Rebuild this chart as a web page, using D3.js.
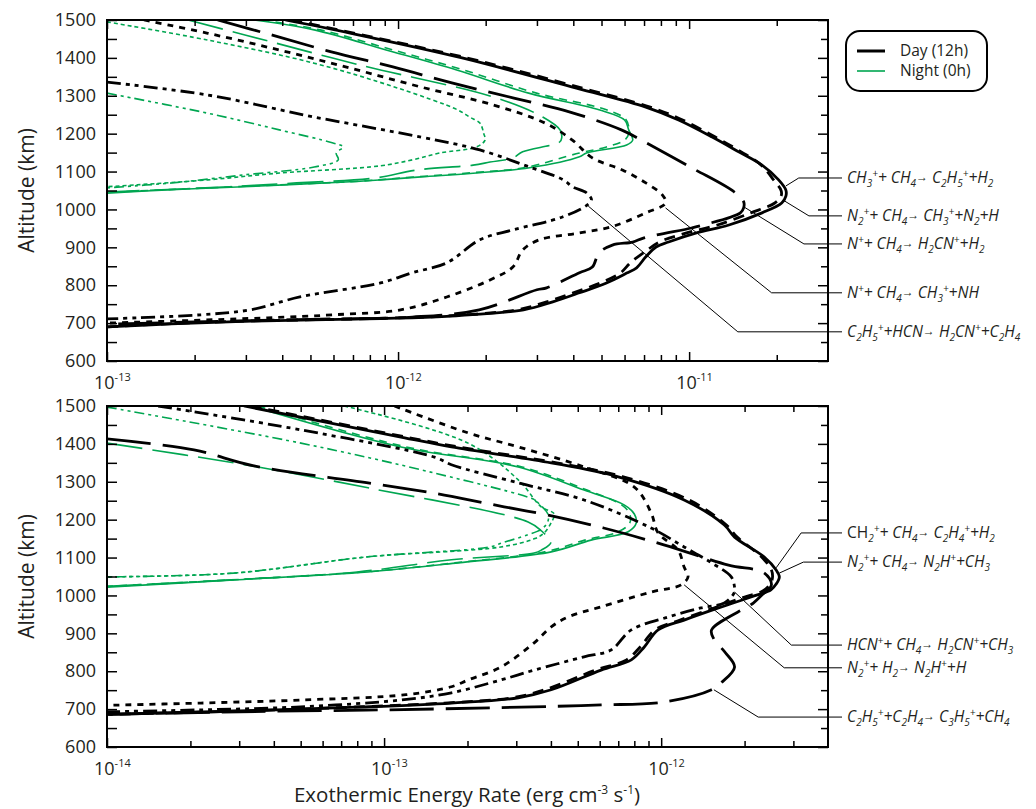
<!DOCTYPE html>
<html>
<head>
<meta charset="utf-8">
<script src="https://cdn.jsdelivr.net/npm/d3@7"></script>
<style>
body { margin: 0; background: #fff; }
text { font-family: "Open Sans", "Noto Sans", sans-serif; fill: #231f20; }
</style>
</head>
<body>
<svg id="chart" width="1036" height="809"></svg>
<script>
// ---- data: [altitude km, exothermic rate erg cm^-3 s^-1] ----
// top panel, day (12h)
var dayCH3_CH4 = [[1500,4.1e-13],[1465,6.9e-13],[1400,1.66e-12],[1320,4.1e-12],[1270,7.1e-12],[1236,9.2e-12],[1191,1.2e-11],[1152,1.48e-11],[1117,1.78e-11],[1078,2.03e-11],[1051,2.15e-11],[1035,2.15e-11],[1017,2.08e-11],[991,1.78e-11],[959,1.37e-11],[938,1.06e-11],[914,8.5e-12],[901,7.7e-12],[875,7.1e-12],[846,6.6e-12],[832,6.1e-12],[806,5.2e-12],[780,4.2e-12],[756,3.4e-12],[735,2.7e-12],[718,1.47e-12],[712,8.7e-13],[705,3.1e-13],[698,1.66e-13],[690,1.0e-13]];
var dayN2_CH4 = [[1500,4.3e-13],[1400,1.72e-12],[1320,4.3e-12],[1270,7.35e-12],[1236,9.5e-12],[1191,1.23e-11],[1152,1.51e-11],[1117,1.77e-11],[1078,1.95e-11],[1050,2.07e-11],[1035,2.07e-11],[1017,1.97e-11],[991,1.63e-11],[959,1.25e-11],[938,9.8e-12],[914,7.9e-12],[890,7.1e-12],[860,6.3e-12],[832,5.8e-12],[806,4.95e-12],[780,4.0e-12],[756,3.24e-12],[735,2.56e-12],[718,1.39e-12],[712,8.0e-13],[705,2.9e-13],[697,1.5e-13],[690,1.0e-13]];
var dayN_CH4_H2CN = [[1500,2.4e-13],[1460,3.7e-13],[1416,5.9e-13],[1376,9.6e-13],[1334,1.53e-12],[1294,2.5e-12],[1257,3.9e-12],[1210,5.85e-12],[1183,6.85e-12],[1110,1.02e-11],[1046,1.43e-11],[1020,1.54e-11],[1005,1.54e-11],[991,1.5e-11],[959,1.12e-11],[951,1.02e-11],[925,7.0e-12],[914,6.4e-12],[906,5.45e-12],[885,4.9e-12],[848,4.65e-12],[833,4.2e-12],[793,3.24e-12],[788,3.0e-12],[735,1.9e-12],[716,1.12e-12],[710,5.0e-13],[703,2.0e-13],[697,1.0e-13]];
var dayN_CH4_CH3 = [[1500,1.34e-13],[1465,2.22e-13],[1421,3.9e-13],[1373,6.85e-13],[1323,1.2e-12],[1276,2.12e-12],[1228,3.2e-12],[1183,3.97e-12],[1136,4.65e-12],[1104,5.9e-12],[1070,7.1e-12],[1038,8.1e-12],[1017,8.3e-12],[991,7.1e-12],[955,5.45e-12],[938,4.2e-12],[920,3.06e-12],[893,2.68e-12],[848,2.48e-12],[814,2.07e-12],[769,1.47e-12],[735,1.02e-12],[722,6.0e-13],[714,3.56e-13],[700,1.0e-13]];
var dayC2H5_HCN = [[1336,1.0e-13],[1302,2.22e-13],[1244,5.15e-13],[1191,1.2e-12],[1157,1.91e-12],[1112,2.83e-12],[1078,3.7e-12],[1060,3.97e-12],[1044,4.44e-12],[1025,4.62e-12],[1012,4.47e-12],[980,3.67e-12],[946,2.48e-12],[920,1.91e-12],[859,1.47e-12],[833,1.12e-12],[806,8.7e-13],[769,4.6e-13],[735,3.1e-13],[722,2.1e-13],[714,1.27e-13],[711,1.0e-13]];
// top panel, night (0h)
var nightCH3_CH4 = [[1500,3.2e-13],[1474,5.15e-13],[1421,9.1e-13],[1368,1.59e-12],[1307,2.81e-12],[1263,4.9e-12],[1236,6.0e-12],[1210,6.2e-12],[1183,6.4e-12],[1170,6.1e-12],[1149,4.44e-12],[1139,4.2e-12],[1110,2.83e-12],[1097,1.91e-12],[1086,1.2e-12],[1078,8.7e-13],[1073,6.85e-13],[1060,2.94e-13],[1052,1.67e-13],[1043,1.0e-13]];
var nightN2_CH4 = [[1500,3.4e-13],[1474,5.4e-13],[1421,9.6e-13],[1368,1.68e-12],[1307,2.99e-12],[1263,5.2e-12],[1236,6.08e-12],[1200,6.2e-12],[1183,6.0e-12],[1165,5.2e-12],[1149,4.2e-12],[1110,2.7e-12],[1097,1.8e-12],[1086,1.15e-12],[1075,7.5e-13],[1062,3.2e-13],[1053,1.7e-13],[1045,1.0e-13]];
var nightN_CH4_H2CN = [[1500,1.9e-13],[1460,3.0e-13],[1380,7.5e-13],[1297,2.12e-12],[1244,3.14e-12],[1210,3.6e-12],[1189,3.65e-12],[1178,3.59e-12],[1152,2.68e-12],[1136,2.48e-12],[1125,2.07e-12],[1117,1.81e-12],[1104,1.16e-12],[1083,8.34e-13],[1070,4.48e-13],[1060,2.64e-13],[1052,1.54e-13],[1046,1.0e-13]];
var nightN_CH4_CH3 = [[1495,1.0e-13],[1447,2.22e-13],[1386,5.15e-13],[1320,1.0e-12],[1263,1.6e-12],[1244,1.76e-12],[1228,1.91e-12],[1200,1.97e-12],[1183,1.99e-12],[1165,1.86e-12],[1149,1.39e-12],[1131,1.12e-12],[1115,8.67e-13],[1096,3.91e-13],[1078,2.22e-13],[1065,1.27e-13],[1060,1.0e-13]];
var nightC2H5_HCN = [[1307,1.0e-13],[1254,2.22e-13],[1210,3.91e-13],[1176,5.94e-13],[1165,6.48e-13],[1149,6.13e-13],[1131,6.23e-13],[1112,5.15e-13],[1091,2.94e-13],[1070,1.67e-13],[1057,1.0e-13]];

// bottom panel, day (12h)
var dayCH2_CH4 = [[1500,3.12e-14],[1418,1.15e-13],[1392,1.75e-13],[1350,4.01e-13],[1313,7.0e-13],[1252,1.21e-12],[1186,1.69e-12],[1154,1.84e-12],[1102,2.35e-12],[1067,2.6e-12],[1049,2.67e-12],[1030,2.6e-12],[1015,2.49e-12],[996,2.11e-12],[967,1.61e-12],[935,1.21e-12],[909,9.75e-13],[864,8.69e-13],[830,7.8e-13],[803,6.07e-13],[751,4.01e-13],[730,3.05e-13],[716,1.75e-13],[705,8.0e-14],[695,3.0e-14],[686,1.0e-14]];
var dayN2_CH4_N2H = [[1500,3.3e-14],[1418,1.2e-13],[1392,1.85e-13],[1350,4.2e-13],[1313,7.3e-13],[1252,1.26e-12],[1186,1.72e-12],[1154,1.88e-12],[1102,2.3e-12],[1067,2.5e-12],[1045,2.52e-12],[1025,2.45e-12],[1010,2.3e-12],[996,2.0e-12],[967,1.55e-12],[935,1.17e-12],[909,9.5e-13],[864,8.4e-13],[830,7.5e-13],[803,5.8e-13],[751,3.8e-13],[730,2.9e-13],[716,1.65e-13],[705,7.5e-14],[695,3.0e-14],[686,1.0e-14]];
var dayHCN_CH4 = [[1500,1.53e-14],[1437,5.01e-14],[1365,1.52e-13],[1345,1.75e-13],[1297,3.05e-13],[1252,5.27e-13],[1178,9.2e-13],[1128,1.21e-12],[1086,1.52e-12],[1049,1.79e-12],[1022,1.84e-12],[1009,1.84e-12],[980,1.69e-12],[967,1.39e-12],[943,1.06e-12],[909,7.8e-13],[856,6.59e-13],[838,5.27e-13],[803,3.48e-13],[777,2.64e-13],[743,1.75e-13],[724,1.15e-13],[706,5.0e-14],[698,2.18e-14],[693,1.0e-14]];
var dayN2_H2 = [[1500,1.09e-13],[1429,2.01e-13],[1392,3.05e-13],[1339,5.27e-13],[1286,8.0e-13],[1218,9.2e-13],[1165,9.75e-13],[1120,1.15e-12],[1075,1.21e-12],[1049,1.25e-12],[1028,1.18e-12],[1009,9.2e-13],[970,6.07e-13],[943,4.61e-13],[917,4.01e-13],[875,3.48e-13],[811,2.64e-13],[777,2.01e-13],[759,1.75e-13],[738,1.2e-13],[724,5.01e-14],[716,2.18e-14],[710,1.0e-14]];
var dayC2H5_C2H4 = [[1413,1.0e-14],[1384,2.06e-14],[1342,3.39e-14],[1297,8.75e-14],[1265,1.65e-13],[1234,2.71e-13],[1212,3.91e-13],[1178,6.2e-13],[1133,1.03e-12],[1080,1.75e-12],[1060,2.35e-12],[1028,2.5e-12],[1000,2.3e-12],[980,2.15e-12],[909,1.52e-12],[885,1.55e-12],[850,1.7e-12],[811,1.84e-12],[770,1.65e-12],[751,1.52e-12],[719,1.03e-12],[711,6.07e-13],[706,3.48e-13],[698,1.0e-13],[693,3.0e-14],[686,1.0e-14]];
// bottom panel, night (0h)
var nightCH2_CH4 = [[1500,3.31e-14],[1392,1.15e-13],[1339,3.05e-13],[1278,5.27e-13],[1239,7.35e-13],[1215,8.0e-13],[1191,8.13e-13],[1168,7.6e-13],[1146,5.58e-13],[1115,4.01e-13],[1086,1.85e-13],[1062,8.75e-14],[1041,2.87e-14],[1022,1.0e-14]];
var nightN2_CH4_N2H = [[1500,3.5e-14],[1392,1.2e-13],[1339,3.15e-13],[1278,5.4e-13],[1239,7.2e-13],[1215,7.7e-13],[1191,7.7e-13],[1168,7.0e-13],[1146,5.3e-13],[1115,3.8e-13],[1086,1.8e-13],[1062,8.5e-14],[1041,2.8e-14],[1024,1.0e-14]];
var nightHCN_CH4 = [[1497,1.0e-14],[1402,5.01e-14],[1323,1.52e-13],[1252,3.5e-13],[1244,3.6e-13],[1215,3.9e-13],[1195,3.9e-13],[1175,3.7e-13],[1160,3.3e-13],[1140,2.7e-13],[1128,2.4e-13],[1102,8.75e-14],[1059,2.87e-14],[1049,1.0e-14]];
var nightN2_H2 = [[1500,7.18e-14],[1402,2.01e-13],[1305,3.05e-13],[1234,3.69e-13],[1215,4.11e-13],[1191,4.0e-13],[1165,3.78e-13],[1150,3.5e-13],[1128,2.64e-13],[1102,8.75e-14],[1059,2.87e-14],[1049,1.0e-14]];
var nightC2H5_C2H4 = [[1402,1.0e-14],[1350,2.87e-14],[1284,8.75e-14],[1194,3.31e-13],[1170,3.7e-13],[1140,4.0e-13],[1120,3.7e-13],[1112,3.48e-13],[1094,1.75e-13],[1062,8.0e-14],[1041,2.8e-14],[1024,1.0e-14]];

// reaction labels (top to bottom as printed)
var topReactions = ["CH_3^++ CH_4→ C_2H_5^++H_2", "N_2^++ CH_4→ CH_3^++N_2+H", "N^++ CH_4→ H_2CN^++H_2", "N^++ CH_4→ CH_3^++NH", "C_2H_5^++HCN→ H_2CN^++C_2H_4"];
var bottomReactions = ["CH|_2^++ CH_4→ C_2H_4^++H_2", "N_2^++ CH_4→ N_2H^++CH_3", "HCN^++ CH_4→ H_2CN^++CH_3", "N_2^++ H_2→ N_2H^++H", "C_2H_5^++C_2H_4→ C_3H_5^++CH_4"];
// leader: altitude of label, point on curve [alt, rate], rate of the bend
var topLabelAlt = [1083, 983, 909, 780, 677];
var topPointAt = [[1062,2.15e-11],[1025,2.1e-11],[1007,1.54e-11],[1004,8.3e-12],[1009,4.5e-12]];
var topBendRate = [2.38e-11, 2.58e-11, 2.48e-11, 1.92e-11, 1.47e-11];
var bottomLabelAlt = [1165, 1088, 869, 809, 679];
var bottomPointAt = [[1073,2.6e-12],[1059,2.67e-12],[1009,1.84e-12],[1028,1.21e-12],[751,1.55e-12]];
var bottomBendRate = [3.2e-12, 3.26e-12, 2.95e-12, 2.78e-12, 2.24e-12];

var altMajor = [600, 700, 800, 900, 1000, 1100, 1200, 1300, 1400, 1500];
var altMinor = [650, 750, 850, 950, 1050, 1150, 1250, 1350, 1450];

var green = "#00a651";
// line styles by name
var dayDash = {solid: null, dash: "11,7", longdash: "44,12", dot: "6,6", dashdot: "14,5,4,5,4,5"};
var nightDash = {solid: null, dash: "8,6", longdash: "36,10", dot: "4,3", dashdot: "10,4,3,4,3,4"};

var panels = [
    {top: 20, bottom: 361, domain: [1e-13, 3e-11], decades: [-13, -12, -11],
        styles: ["solid", "dash", "longdash", "dot", "dashdot"],
        day: [dayCH3_CH4, dayN2_CH4, dayN_CH4_H2CN, dayN_CH4_CH3, dayC2H5_HCN],
        night: [nightCH3_CH4, nightN2_CH4, nightN_CH4_H2CN, nightN_CH4_CH3, nightC2H5_HCN],
        labels: topReactions, labelAlt: topLabelAlt, pointAt: topPointAt, bend: topBendRate},
    {top: 406, bottom: 747, domain: [1e-14, 4e-12], decades: [-14, -13, -12],
        styles: ["solid", "dash", "dashdot", "dot", "longdash"],
        day: [dayCH2_CH4, dayN2_CH4_N2H, dayHCN_CH4, dayN2_H2, dayC2H5_C2H4],
        night: [nightCH2_CH4, nightN2_CH4_N2H, nightHCN_CH4, nightN2_H2, nightC2H5_C2H4],
        labels: bottomReactions, labelAlt: bottomLabelAlt, pointAt: bottomPointAt, bend: bottomBendRate}
];

var svg = d3.select("#chart");
var left = 107, right = 828;

// writes chemistry text: _x subscript, ^x superscript, text before | upright
function chemText(sel, str) {
    var off = 0;
    function add(txt, shift, size, upright) {
        sel.append("tspan")
            .attr("dy", shift - off)
            .style("font-size", size + "px")
            .style("font-style", upright ? "normal" : "italic")
            .text(txt);
        off = shift;
    }
    var parts = str.split("|");
    var body = parts.length > 1 ? parts[1] : parts[0];
    if (parts.length > 1) add(parts[0], 0, 15.5, true);
    var tokens = body.match(/(_.|\^.|→|[^_^→]+)/g);
    tokens.forEach(function (t) {
        if (t[0] === "_") add(t[1], 4, 10);
        else if (t[0] === "^") add(t[1], -6, 10);
        else if (t === "→") add("→", -2, 12);
        else add(t, 0, 15.5);
    });
}

panels.forEach(function (p, pi) {
    var x = d3.scaleLog().domain(p.domain).range([left, right]);
    var y = d3.scaleLinear().domain([600, 1500]).range([p.bottom, p.top]);

    svg.append("clipPath").attr("id", "clip" + pi)
        .append("rect")
        .attr("x", left).attr("y", p.top)
        .attr("width", right - left).attr("height", p.bottom - p.top);

    var line = d3.line()
        .x(function (d) { return x(d[1]); })
        .y(function (d) { return y(d[0]); })
        .curve(d3.curveCatmullRom.alpha(0.5));

    var curves = svg.append("g").attr("clip-path", "url(#clip" + pi + ")");

    p.night.forEach(function (c, i) {
        curves.append("path").datum(c)
            .attr("d", line)
            .attr("fill", "none")
            .attr("stroke", green)
            .attr("stroke-width", 1.6)
            .attr("stroke-dasharray", nightDash[p.styles[i]]);
    });
    p.day.forEach(function (c, i) {
        curves.append("path").datum(c)
            .attr("d", line)
            .attr("fill", "none")
            .attr("stroke", "#000")
            .attr("stroke-width", 2.8)
            .attr("stroke-dasharray", dayDash[p.styles[i]]);
    });

    // leaders + reaction labels
    p.labels.forEach(function (lab, i) {
        var ly = y(p.labelAlt[i]);
        var pts = [[x(p.pointAt[i][1]), y(p.pointAt[i][0])], [x(p.bend[i]), ly], [842, ly]];
        svg.append("path")
            .attr("d", d3.line()(pts))
            .attr("fill", "none")
            .attr("stroke", "#000")
            .attr("stroke-width", 1);
        var t = svg.append("text")
            .attr("x", 847)
            .attr("y", ly + 5);
        chemText(t, lab);
    });

    // left / right axes
    svg.append("g").attr("transform", "translate(" + left + ",0)")
        .call(d3.axisLeft(y).tickValues(altMajor).tickSize(-10).tickPadding(11).tickFormat(d3.format("d")))
        .call(function (s) { s.select(".domain").remove(); })
        .attr("font-size", 18).attr("font-family", null);
    svg.append("g").attr("transform", "translate(" + left + ",0)")
        .call(d3.axisLeft(y).tickValues(altMinor).tickSize(-10).tickFormat(""))
        .call(function (s) { s.select(".domain").remove(); });
    svg.append("g").attr("transform", "translate(" + right + ",0)")
        .call(d3.axisRight(y).tickValues(altMajor).tickSize(-10).tickFormat(""))
        .call(function (s) { s.select(".domain").remove(); });
    svg.append("g").attr("transform", "translate(" + right + ",0)")
        .call(d3.axisRight(y).tickValues(altMinor).tickSize(-7).tickFormat(""))
        .call(function (s) { s.select(".domain").remove(); });

    // log x ticks
    var majors = p.decades.map(function (d) { return Math.pow(10, d); });
    var minors = [];
    p.decades.forEach(function (d) {
        for (var m = 2; m <= 9; m++) {
            var v = m * Math.pow(10, d);
            if (v < p.domain[1] * 0.999) minors.push(v);
        }
    });
    [[d3.axisBottom, p.bottom], [d3.axisTop, p.top]].forEach(function (a) {
        svg.append("g").attr("transform", "translate(0," + a[1] + ")")
            .call(a[0](x).tickValues(majors).tickSize(-9).tickFormat(""))
            .call(function (s) { s.select(".domain").remove(); });
        svg.append("g").attr("transform", "translate(0," + a[1] + ")")
            .call(a[0](x).tickValues(minors).tickSize(-6).tickFormat(""))
            .call(function (s) { s.select(".domain").remove(); });
    });
    svg.selectAll(".tick line").attr("stroke-width", 1.5);

    p.decades.forEach(function (d) {
        var t = svg.append("text")
            .attr("x", x(Math.pow(10, d)) - 13)
            .attr("y", p.bottom + 28)
            .style("font-size", "18px");
        t.append("tspan").text("10");
        t.append("tspan").attr("dy", -8).style("font-size", "11px").text(String(d));
    });

    // frame
    svg.append("rect")
        .attr("x", left).attr("y", p.top)
        .attr("width", right - left).attr("height", p.bottom - p.top)
        .attr("fill", "none").attr("stroke", "#000").attr("stroke-width", 2);

    svg.append("text")
        .attr("transform", "translate(34," + ((p.top + p.bottom) / 2) + ") rotate(-90)")
        .attr("text-anchor", "middle")
        .style("font-size", "21px")
        .text("Altitude (km)");
});

// x title
var xt = svg.append("text")
    .attr("x", 467).attr("y", 802)
    .attr("text-anchor", "middle")
    .style("font-size", "20.5px");
xt.append("tspan").text("Exothermic Energy Rate (erg cm");
xt.append("tspan").attr("dy", -8).style("font-size", "12px").text("-3");
xt.append("tspan").attr("dy", 8).text(" s");
xt.append("tspan").attr("dy", -8).style("font-size", "12px").text("-1");
xt.append("tspan").attr("dy", 8).text(")");

// legend
var lg = svg.append("g");
lg.append("rect")
    .attr("x", 846).attr("y", 31).attr("width", 141).attr("height", 60)
    .attr("rx", 14).attr("fill", "#fff").attr("stroke", "#000").attr("stroke-width", 2);
lg.append("line").attr("x1", 857).attr("x2", 885).attr("y1", 51).attr("y2", 51)
    .attr("stroke", "#000").attr("stroke-width", 3);
lg.append("line").attr("x1", 857).attr("x2", 885).attr("y1", 71).attr("y2", 71)
    .attr("stroke", green).attr("stroke-width", 1.6);
lg.append("text").attr("x", 900).attr("y", 56).style("font-size", "15.5px").text("Day (12h)");
lg.append("text").attr("x", 900).attr("y", 76).style("font-size", "15.5px").text("Night (0h)");
</script>
</body>
</html>
